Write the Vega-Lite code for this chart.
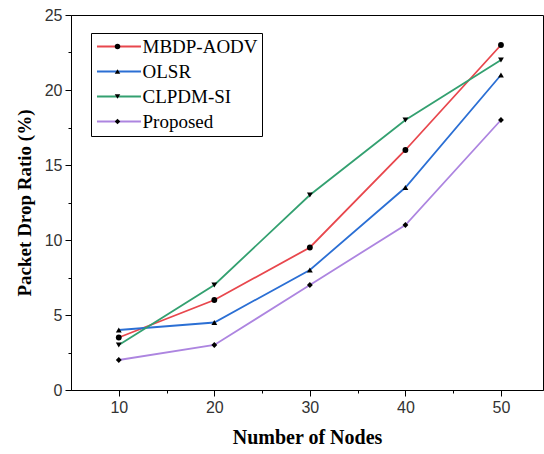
{
  "$schema": "https://vega.github.io/schema/vega-lite/v6.json",
  "width": 472,
  "height": 375,
  "autosize": "none",
  "padding": {"left": 71, "top": 15, "right": 1, "bottom": 64},
  "background": "white",
  "config": {
    "view": {"stroke": "black", "strokeWidth": 1},
    "axis": {
      "domainColor": "black",
      "tickColor": "black",
      "labelColor": "#333333",
      "labelFont": "Liberation Sans",
      "labelFontSize": 16,
      "titleFont": "Liberation Serif",
      "titleFontWeight": "bold",
      "titleColor": "black",
      "grid": false
    }
  },
  "data": {
    "values": [
      {"nodes": 10, "ratio": 3.5, "series": "MBDP-AODV"},
      {"nodes": 20, "ratio": 6, "series": "MBDP-AODV"},
      {"nodes": 30, "ratio": 9.5, "series": "MBDP-AODV"},
      {"nodes": 40, "ratio": 16, "series": "MBDP-AODV"},
      {"nodes": 50, "ratio": 23, "series": "MBDP-AODV"},
      {"nodes": 10, "ratio": 4, "series": "OLSR"},
      {"nodes": 20, "ratio": 4.5, "series": "OLSR"},
      {"nodes": 30, "ratio": 8, "series": "OLSR"},
      {"nodes": 40, "ratio": 13.5, "series": "OLSR"},
      {"nodes": 50, "ratio": 21, "series": "OLSR"},
      {"nodes": 10, "ratio": 3, "series": "CLPDM-SI"},
      {"nodes": 20, "ratio": 7, "series": "CLPDM-SI"},
      {"nodes": 30, "ratio": 13, "series": "CLPDM-SI"},
      {"nodes": 40, "ratio": 18, "series": "CLPDM-SI"},
      {"nodes": 50, "ratio": 22, "series": "CLPDM-SI"},
      {"nodes": 10, "ratio": 2, "series": "Proposed"},
      {"nodes": 20, "ratio": 3, "series": "Proposed"},
      {"nodes": 30, "ratio": 7, "series": "Proposed"},
      {"nodes": 40, "ratio": 11, "series": "Proposed"},
      {"nodes": 50, "ratio": 18, "series": "Proposed"}
    ]
  },
  "encoding": {
    "x": {
      "field": "nodes", "type": "quantitative",
      "scale": {"domain": [5, 54.4], "nice": false, "zero": false},
      "axis": {
        "title": "Number of Nodes",
        "titleFontSize": 20,
        "titlePadding": 12,
        "values": [10, 15, 20, 25, 30, 35, 40, 45, 50],
        "labelExpr": "datum.value % 10 === 0 ? format(datum.value, 'd') : ''",
        "tickSize": {"condition": {"test": "datum.value % 10 === 0", "value": 6}, "value": 3},
        "labelPadding": 3
      }
    },
    "y": {
      "field": "ratio", "type": "quantitative",
      "scale": {"domain": [0, 25], "nice": false},
      "axis": {
        "title": "Packet Drop Ratio (%)",
        "titleFontSize": 19,
        "titlePadding": 10,
        "values": [0, 2.5, 5, 7.5, 10, 12.5, 15, 17.5, 20, 22.5, 25],
        "labelExpr": "datum.value % 5 === 0 ? format(datum.value, 'd') : ''",
        "tickSize": {"condition": {"test": "datum.value % 5 === 0", "value": 6}, "value": 3},
        "labelPadding": 3
      }
    }
  },
  "layer": [
    {
      "mark": {"type": "line", "strokeWidth": 1.8},
      "encoding": {
        "color": {
          "field": "series", "type": "nominal",
          "scale": {
            "domain": ["MBDP-AODV", "OLSR", "CLPDM-SI", "Proposed"],
            "range": ["#e8474d", "#2b6fd4", "#33a070", "#ad85e0"]
          },
          "legend": {
            "title": null,
            "orient": "none",
            "legendX": 20,
            "legendY": 18,
            "strokeColor": "black",
            "padding": 4,
            "symbolType": "M-4,0H4",
            "symbolSize": 121,
            "symbolStrokeWidth": 2,
            "symbolOffset": 14.5,
            "labelFont": "Liberation Serif",
            "labelFontSize": 19,
            "labelColor": "black",
            "labelOffset": 14,
            "rowPadding": 5,
            "labelLimit": 300
          }
        }
      }
    },
    {
      "transform": [{"calculate": "datum.series", "as": "marker"}],
      "mark": {"type": "point", "filled": true, "color": "black", "opacity": 1, "size": 34},
      "encoding": {
        "shape": {
          "field": "marker", "type": "nominal",
          "sort": ["MBDP-AODV", "OLSR", "CLPDM-SI", "Proposed"],
          "scale": {
            "range": ["circle", "triangle-up", "triangle-down", "diamond"]
          },
          "legend": {
            "title": null,
            "orient": "none",
            "legendX": 33,
            "legendY": 18,
            "padding": 4,
            "symbolSize": 30,
            "symbolFillColor": "black",
            "symbolStrokeColor": "black",
            "symbolStrokeWidth": 0,
            "labelFont": "Liberation Serif",
            "labelFontSize": 19,
            "labelExpr": "''",
            "labelOffset": 6,
            "rowPadding": 5,
            "labelLimit": 300
          }
        }
      }
    }
  ]
}
